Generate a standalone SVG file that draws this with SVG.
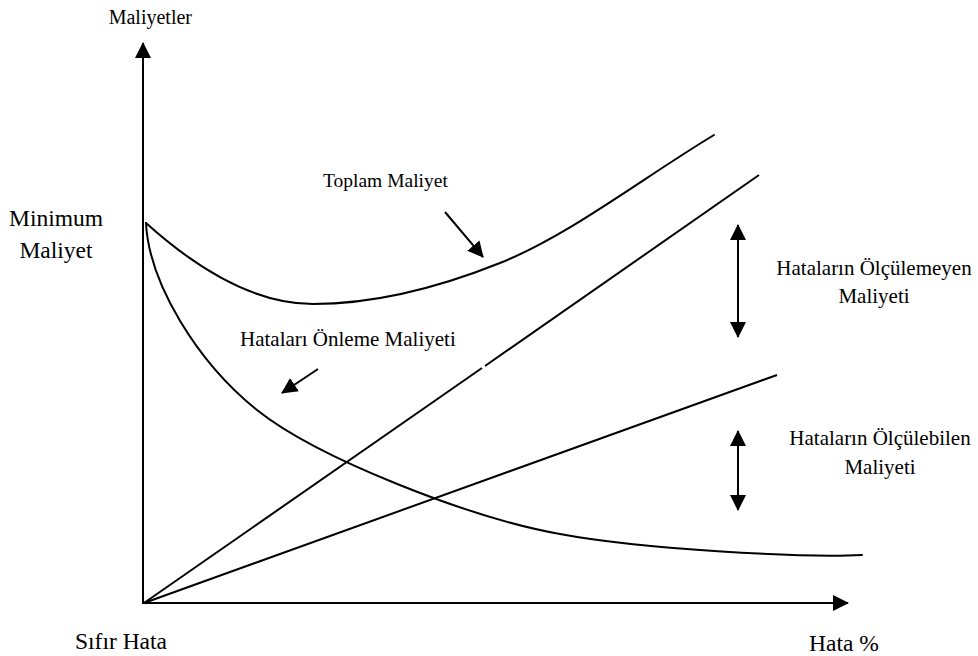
<svg xmlns="http://www.w3.org/2000/svg" width="978" height="656" viewBox="0 0 978 656">
  <style>
    .ln { fill: none; stroke: #000; stroke-width: 2; }
    .crv { fill: none; stroke: #000; stroke-width: 2; stroke-linecap: round; }
    text { font-family: "Liberation Serif", "Times New Roman", Times, serif; fill: #000; }
  </style>
  <defs>
    <marker id="head" viewBox="0 0 16 16" refX="15" refY="8" markerWidth="16" markerHeight="16" markerUnits="userSpaceOnUse" orient="auto-start-reverse">
      <path d="M0,0 L16,8 L0,16 z" fill="#000"/>
    </marker>
  </defs>
  <rect width="978" height="656" fill="#fff"/>

  <!-- axes -->
  <g id="axes">
    <line class="ln" x1="143" y1="604" x2="143" y2="43" marker-end="url(#head)"/>
    <line class="ln" x1="142" y1="603" x2="848" y2="603" marker-end="url(#head)"/>
  </g>

  <!-- cost curves and lines -->
  <g id="connectors">
    <!-- total cost -->
    <path class="crv" d="M146,223 C196,268 253,304 313,304 C373,304 440,287 500,263 C570,235 644,177 714,135"/>
    <!-- prevention cost -->
    <path class="crv" d="M146,223 C149,283 197,362 257,410 C317,458 470,518 560,534 C640,549 800,558 862,555"/>
    <!-- unmeasured cost line -->
    <line class="ln" x1="144" y1="603" x2="482" y2="368"/>
    <line class="ln" x1="485" y1="366" x2="759" y2="175"/>
    <!-- measured cost line -->
    <line class="ln" x1="144" y1="603" x2="777" y2="375"/>

    <!-- label pointers -->
    <line class="ln" x1="445" y1="212" x2="483" y2="257" marker-end="url(#head)"/>
    <line class="ln" x1="318" y1="369" x2="282" y2="393" marker-end="url(#head)"/>

    <!-- range arrows -->
    <line class="ln" x1="738" y1="225" x2="738" y2="337" marker-start="url(#head)" marker-end="url(#head)"/>
    <line class="ln" x1="738" y1="431" x2="738" y2="510" marker-start="url(#head)" marker-end="url(#head)"/>
  </g>

  <!-- labels -->
  <g id="y-axis-label"><text x="192" y="24" font-size="20" text-anchor="end">Maliyetler</text></g>
  <g id="min-cost"><text x="56" y="226" font-size="23.5" text-anchor="middle">Minimum</text><text x="56" y="258" font-size="23.5" text-anchor="middle">Maliyet</text></g>
  <g id="total-cost"><text x="323" y="187" font-size="19.5">Toplam Maliyet</text></g>
  <g id="prevention-cost"><text x="240" y="346" font-size="21">Hataları Önleme Maliyeti</text></g>
  <g id="unmeasured-cost"><text x="874" y="275" font-size="21" text-anchor="middle">Hataların Ölçülemeyen</text><text x="874" y="303" font-size="21" text-anchor="middle">Maliyeti</text></g>
  <g id="measured-cost"><text x="880" y="445" font-size="21" text-anchor="middle">Hataların Ölçülebilen</text><text x="880" y="474" font-size="21" text-anchor="middle">Maliyeti</text></g>
  <g id="zero-defect"><text x="167" y="649" font-size="23.5" text-anchor="end">Sıfır Hata</text></g>
  <g id="x-axis-label"><text x="809" y="651" font-size="23.5">Hata %</text></g>
</svg>
